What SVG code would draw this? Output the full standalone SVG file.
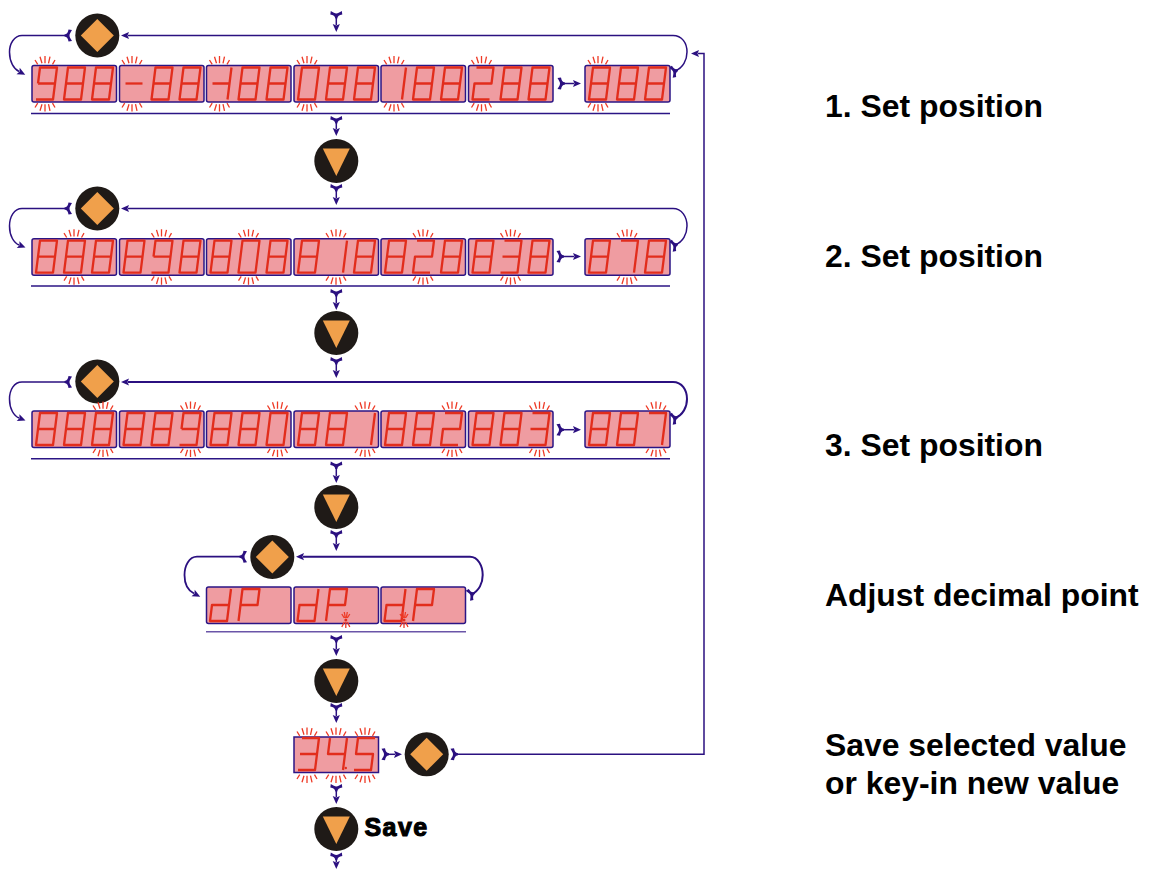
<svg xmlns="http://www.w3.org/2000/svg" width="1153" height="869" viewBox="0 0 1153 869">
<style>
.box{fill:#ef9ca1;stroke:#2b1585;stroke-width:1.5}
.seg{fill:none;stroke:#e22d1c;stroke-width:2.3;stroke-linejoin:round}
.ray{stroke:#ee3a26;stroke-width:1.3;fill:none}
.ul{stroke:#2b1585;stroke-width:1.4;fill:none}
.c{fill:none;stroke:#2b1080;stroke-width:1.5;marker-start:url(#tail);marker-end:url(#head)}
.ball{fill:#1f1a17}
.sym{fill:#f0a04b}
.lbl{font-family:"Liberation Sans",Arial,sans-serif;font-weight:700;font-size:31.9px;fill:#000}
.save{font-family:"Liberation Sans",Arial,sans-serif;font-weight:700;font-size:25px;letter-spacing:1.4px;fill:#000;stroke:#000;stroke-width:1.1}
</style>
<defs>
<marker id="tail" markerUnits="userSpaceOnUse" orient="auto" overflow="visible" markerWidth="12" markerHeight="12" refX="0" refY="0"><path fill="#2b1080" d="M-4.5,-5.5L-1,-6C-.5,-3 .5,-1.2 3,-1L3,1C.5,1.2 -.5,3 -1,6L-4.5,5.5C-3,3 -2,1.5 -2,0C-2,-1.5 -3,-3 -4.5,-5.5Z"/></marker>
<marker id="head" markerUnits="userSpaceOnUse" orient="auto" overflow="visible" markerWidth="8" markerHeight="8" refX="0" refY="0"><path fill="#2b1080" d="M-1,-3.6L7,0L-1,3.6L.5,0Z"/></marker>
<path id="d8" class="seg" d="M4,-32H21L17,0H0ZM2,-16H19"/>
<path id="d9" class="seg" d="M2,-16L4,-32H21L17,0H0M2,-16H19"/>
<path id="d0" class="seg" d="M4,-32H21L17,0H0Z"/>
<path id="d1" class="seg" d="M21,-32L17,0"/>
<path id="d2" class="seg" d="M4,-32H21L19,-16H2L0,0H17"/>
<path id="d3" class="seg" d="M4,-32H21L17,0H0M2,-16H19"/>
<path id="d4" class="seg" d="M4,-32L2,-16H19M21,-32L17,0"/>
<path id="d5" class="seg" d="M21,-32H4L2,-16H19L17,0H0"/>
<path id="d7" class="seg" d="M4,-32H21L17,0"/>
<path id="dm" class="seg" d="M2,-16H19"/>
<path id="dm1" class="seg" d="M2,-16H19M21,-32L17,0"/>
<path id="dd" class="seg" d="M21,-32L17,0H0L2,-16H19"/>
<path id="dP" class="seg" d="M0,0L4,-32H21L19,-16H2"/>
<g id="fan" class="ray">
<path d="M-10,-5.5L-7.3,-1.2M-5,-8.8L-3,-2.2M0,-9.5V-2.2M5,-8.8L3.5,-2.2M10,-5.5L7.5,-1.2"/>
<path d="M-10,42L-7.3,37.7M-5,45.3L-3,38.7M0,46V38.7M5,45.3L3.5,38.7M10,42L7.5,37.7"/>
</g>
<g id="star"><circle r="1.5" fill="#e22d1c"/><path class="ray" d="M-4,-6L-1.5,-2M-1.5,-8L-.5,-2M1.5,-8L.5,-2M4,-6L1.5,-2M-4,7L-1.5,2M0,8V2M4,7L1.5,2"/></g>
<g id="dia"><circle r="22" class="ball"/><path class="sym" d="M0,-16.5L16.5,0L0,16.5L-16.5,0Z"/></g>
<g id="tri"><circle r="22" class="ball"/><path class="sym" d="M-13.5,-12.5H13.5L0,15Z"/></g>
</defs>

<rect width="1153" height="869" fill="#fff"/>

<g id="connectors">
<path class="c" d="M336.3,15.5V25"/>
<path class="c" d="M675,71C683,68 687,60 687,52C687,43 682,35.5 673,35.5L128,35.5"/>
<path class="c" d="M67.5,35.5H22C14,35.5 9.5,44 9.5,52C9.5,62 14,69 19,71.5"/>
<path class="c" d="M562,83.5H574"/>
<path class="c" d="M336.3,120.5V129"/>
<path class="c" d="M336.3,188.5V198"/>
<path class="c" d="M675,245C683,242 687,234 687,226C687,217 682,208.5 673,208.5L128,208.5"/>
<path class="c" d="M67.5,208.5H22C14,208.5 9.5,217 9.5,226C9.5,236 14,243 19,245"/>
<path class="c" d="M561,256.5H574"/>
<path class="c" d="M336.3,293.5V303"/>
<path class="c" d="M336.3,361.5V371"/>
<path class="c" d="M675,418C683,415 687,407 687,399C687,390 682,382 673,382L128,382" style="stroke-width:2"/>
<path class="c" d="M67.5,382H22C14,382 9.5,390 9.5,399C9.5,409 14,416 19,418"/>
<path class="c" d="M561,429.7H574"/>
<path class="c" d="M336.3,466V476"/>
<path class="c" d="M336.3,534.5V544"/>
<path class="c" d="M472,594C479,591 482.7,583 482.7,575C482.7,566 478,556.7 470,556.7L303,556.7" style="stroke-width:2"/>
<path class="c" d="M242.5,556.7H197C189,556.7 184.5,566 184.5,575C184.5,585 189,591 194,593.5" style="stroke-width:1.8"/>
<path class="c" d="M336.3,639.5V649"/>
<path class="c" d="M336.3,707.5V716"/>
<path class="c" d="M336.3,788.5V797"/>
<path class="c" d="M386,754.3H395"/>
<path class="c" d="M455,754.3H704V53.5H698"/>
<path class="c" d="M336.3,857V862"/>
</g>

<g id="row1">
<g id="row1-displays">
<rect class="box" x="32" y="65.5" width="84.5" height="36.5" rx="2"/><rect class="box" x="119.5" y="65.5" width="84.5" height="36.5" rx="2"/><rect class="box" x="206.5" y="65.5" width="84.5" height="36.5" rx="2"/><rect class="box" x="294" y="65.5" width="84.5" height="36.5" rx="2"/><rect class="box" x="381" y="65.5" width="84.5" height="36.5" rx="2"/><rect class="box" x="468.5" y="65.5" width="84.5" height="36.5" rx="2"/><rect class="box" x="585" y="65.5" width="85" height="36.5" rx="2"/>
<use href="#d9" x="36" y="99.5"/><use href="#d8" x="64" y="99.5"/><use href="#d8" x="92" y="99.5"/>
<use href="#dm" x="123.5" y="99.5"/><use href="#d8" x="151.5" y="99.5"/><use href="#d8" x="179.5" y="99.5"/>
<use href="#dm1" x="210.5" y="99.5"/><use href="#d8" x="238.5" y="99.5"/><use href="#d8" x="266.5" y="99.5"/>
<use href="#d0" x="298" y="99.5"/><use href="#d8" x="326" y="99.5"/><use href="#d8" x="354" y="99.5"/>
<use href="#d1" x="385" y="99.5"/><use href="#d8" x="413" y="99.5"/><use href="#d8" x="441" y="99.5"/>
<use href="#d2" x="472.5" y="99.5"/><use href="#d8" x="500.5" y="99.5"/><use href="#d8" x="528.5" y="99.5"/>
<use href="#d8" x="589" y="99.5"/><use href="#d8" x="617" y="99.5"/><use href="#d8" x="645" y="99.5"/>
<use href="#fan" x="45" y="65.5"/><use href="#fan" x="132" y="65.5"/><use href="#fan" x="219.5" y="65.5"/><use href="#fan" x="307" y="65.5"/><use href="#fan" x="394" y="65.5"/><use href="#fan" x="481.5" y="65.5"/><use href="#fan" x="598" y="65.5"/>
</g>
<path class="ul" d="M31,113.5H670"/>
</g>
<g id="key-enter-1"><use href="#dia" x="97.3" y="35.5"/></g>
<g id="key-down-1"><use href="#tri" x="336.3" y="161"/></g>

<g id="row2">
<g id="row2-displays">
<rect class="box" x="32" y="238.7" width="84.5" height="36.5" rx="2"/><rect class="box" x="119.5" y="238.7" width="84.5" height="36.5" rx="2"/><rect class="box" x="206.5" y="238.7" width="84.5" height="36.5" rx="2"/><rect class="box" x="294" y="238.7" width="84.5" height="36.5" rx="2"/><rect class="box" x="381" y="238.7" width="84.5" height="36.5" rx="2"/><rect class="box" x="468.5" y="238.7" width="84.5" height="36.5" rx="2"/><rect class="box" x="585" y="238.7" width="85" height="36.5" rx="2"/>
<use href="#d8" x="36" y="272.7"/><use href="#d8" x="64" y="272.7"/><use href="#d8" x="92" y="272.7"/>
<use href="#d8" x="123.5" y="272.7"/><use href="#d9" x="151.5" y="272.7"/><use href="#d8" x="179.5" y="272.7"/>
<use href="#d8" x="210.5" y="272.7"/><use href="#d0" x="238.5" y="272.7"/><use href="#d8" x="266.5" y="272.7"/>
<use href="#d8" x="298" y="272.7"/><use href="#d1" x="326" y="272.7"/><use href="#d8" x="354" y="272.7"/>
<use href="#d8" x="385" y="272.7"/><use href="#d2" x="413" y="272.7"/><use href="#d8" x="441" y="272.7"/>
<use href="#d8" x="472.5" y="272.7"/><use href="#d3" x="500.5" y="272.7"/><use href="#d8" x="528.5" y="272.7"/>
<use href="#d8" x="589" y="272.7"/><use href="#d7" x="617" y="272.7"/><use href="#d8" x="645" y="272.7"/>
<use href="#fan" x="74" y="238.7"/><use href="#fan" x="161.5" y="238.7"/><use href="#fan" x="248.5" y="238.7"/><use href="#fan" x="336" y="238.7"/><use href="#fan" x="423" y="238.7"/><use href="#fan" x="510.5" y="238.7"/><use href="#fan" x="627" y="238.7"/>
</g>
<path class="ul" d="M31,286H670"/>
</g>
<g id="key-enter-2"><use href="#dia" x="97.3" y="208.5"/></g>
<g id="key-down-2"><use href="#tri" x="336.3" y="333"/></g>

<g id="key-enter-3"><use href="#dia" x="97.3" y="381.5"/></g>
<g id="row3">
<g id="row3-displays">
<rect class="box" x="32" y="411" width="84.5" height="36.5" rx="2"/><rect class="box" x="119.5" y="411" width="84.5" height="36.5" rx="2"/><rect class="box" x="206.5" y="411" width="84.5" height="36.5" rx="2"/><rect class="box" x="294" y="411" width="84.5" height="36.5" rx="2"/><rect class="box" x="381" y="411" width="84.5" height="36.5" rx="2"/><rect class="box" x="468.5" y="411" width="84.5" height="36.5" rx="2"/><rect class="box" x="585" y="411" width="85" height="36.5" rx="2"/>
<use href="#d8" x="36" y="445"/><use href="#d8" x="64" y="445"/><use href="#d8" x="92" y="445"/>
<use href="#d8" x="123.5" y="445"/><use href="#d8" x="151.5" y="445"/><use href="#d9" x="179.5" y="445"/>
<use href="#d8" x="210.5" y="445"/><use href="#d8" x="238.5" y="445"/><use href="#d0" x="266.5" y="445"/>
<use href="#d8" x="298" y="445"/><use href="#d8" x="326" y="445"/><use href="#d1" x="354" y="445"/>
<use href="#d8" x="385" y="445"/><use href="#d8" x="413" y="445"/><use href="#d2" x="441" y="445"/>
<use href="#d8" x="472.5" y="445"/><use href="#d8" x="500.5" y="445"/><use href="#d3" x="528.5" y="445"/>
<use href="#d8" x="589" y="445"/><use href="#d8" x="617" y="445"/><use href="#d7" x="645" y="445"/>
<use href="#fan" x="103" y="411"/><use href="#fan" x="190.5" y="411"/><use href="#fan" x="277.5" y="411"/><use href="#fan" x="365" y="411"/><use href="#fan" x="452" y="411"/><use href="#fan" x="539.5" y="411"/><use href="#fan" x="656" y="411"/>
</g>
<path class="ul" d="M31,458.7H670"/>
</g>
<g id="key-down-3"><use href="#tri" x="336.3" y="507"/></g>

<g id="key-enter-4"><use href="#dia" x="272.3" y="557"/></g>
<g id="row4">
<g id="row4-displays">
<rect class="box" x="206.5" y="587" width="84.5" height="36.5" rx="2"/><rect class="box" x="294" y="587" width="84.5" height="36.5" rx="2"/><rect class="box" x="381" y="587" width="84.5" height="36.5" rx="2"/>
<use href="#dd" x="210" y="621"/><use href="#dP" x="238.5" y="621"/>
<use href="#dd" x="297.5" y="621"/><use href="#dP" x="326" y="621"/><use href="#star" x="345.8" y="620"/>
<use href="#dd" x="384.5" y="621"/><use href="#dP" x="413" y="621"/><use href="#star" x="404" y="620"/>
</g>
<path class="ul" d="M206,631.7H466" style="stroke:#6a55a8"/>
</g>
<g id="key-down-4"><use href="#tri" x="336.3" y="681"/></g>

<g id="row5">
<rect class="box" x="294" y="737" width="84.5" height="35.5"/>
<use href="#d3" x="298" y="770"/><use href="#d4" x="326" y="770"/><use href="#d5" x="354" y="770"/>
<circle cx="345.8" cy="768" r="1.2" fill="#e22d1c"/>
<use href="#fan" x="307" y="737"/><use href="#fan" x="336" y="737"/><use href="#fan" x="365" y="737"/>
</g>
<g id="key-enter-5"><use href="#dia" x="426.7" y="754.3"/></g>
<g id="key-save"><use href="#tri" x="336.3" y="829"/><text class="save" x="364.5" y="835.5">Save</text></g>

<g id="labels">
<text class="lbl" x="825" y="116.5">1. Set position</text>
<text class="lbl" x="825" y="266.5">2. Set position</text>
<text class="lbl" x="825" y="455.5">3. Set position</text>
<text class="lbl" x="825" y="605.5">Adjust decimal point</text>
<text class="lbl" x="825" y="755.5">Save selected value</text>
<text class="lbl" x="825" y="793.5">or key-in new value</text>
</g>
</svg>
